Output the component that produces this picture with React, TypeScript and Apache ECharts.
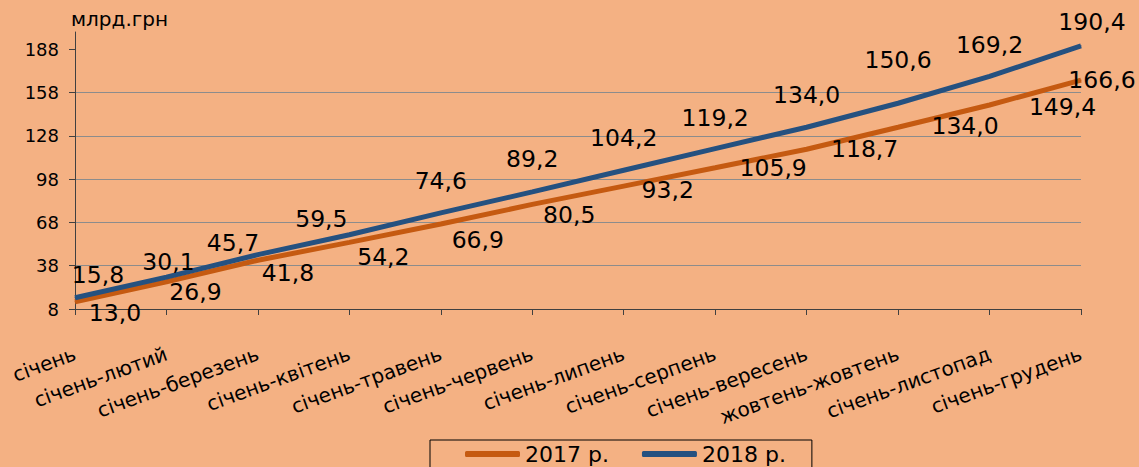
import React, { useEffect, useRef } from "react";
import * as echarts from "echarts";

const categories = [
  "січень",
  "січень-лютий",
  "січень-березень",
  "січень-квітень",
  "січень-травень",
  "січень-червень",
  "січень-липень",
  "січень-серпень",
  "січень-вересень",
  "жовтень-жовтень",
  "січень-листопад",
  "січень-грудень",
];
const values2017 = [13.0, 26.9, 41.8, 54.2, 66.9, 80.5, 93.2, 105.9, 118.7, 134.0, 149.4, 166.6];
const values2018 = [15.8, 30.1, 45.7, 59.5, 74.6, 89.2, 104.2, 119.2, 134.0, 150.6, 169.2, 190.4];
const yTicks = [8, 38, 68, 98, 128, 158, 188];
const seriesNames = ["2017 р.", "2018 р."];

// label placement (layout only)
const offsets2017 = [
  [40, 11], [29, 10], [30, 13], [34, 15], [37, 16], [37, 11],
  [44, 4], [58, 0], [58, 0], [67, -1], [73, 2], [21, 0],
];
const offsets2018 = [
  [23, -23], [2, -15], [-25, -12], [-28, -16], [0, -32], [0, -33],
  [0, -32], [0, -31], [0, -32], [0, -43], [0, -31], [11, -24],
];

const FONT = "DejaVu Sans, Verdana, sans-serif";
const fmt = (v: number) => v.toFixed(1).replace(".", ",");

export default function App() {
  const ref = useRef<HTMLDivElement>(null);
  useEffect(() => {
    if (!ref.current) return;
    const chart = echarts.init(ref.current, null, { renderer: "svg" });
    const mk = (vals: number[], offs: number[][]) =>
      vals.map((v, i) => ({
        value: v,
        label: { offset: offs[i] },
      }));
    const labelStyle = {
      show: true,
      position: "inside",
      fontSize: 23.5,
      fontFamily: FONT,
      color: "#000",
      formatter: (p: any) => fmt(p.value),
    };
    chart.setOption({
      animation: false,
      backgroundColor: "#F4B183",
      textStyle: { fontFamily: FONT },
      grid: { left: 75, right: 58, top: 32, bottom: 158, containLabel: false },
      graphic: [
        {
          type: "text",
          left: 71,
          top: 9,
          style: { text: "млрд.грн", fontSize: 20, fontFamily: FONT, fill: "#000" },
        },
      ],
      legend: {
        left: 430,
        top: 440,
        padding: [3, 26, 3, 35],
        itemGap: 33,
        itemWidth: 55,
        itemHeight: 6,
        icon: "roundRect",
        borderColor: "#000",
        borderWidth: 1,
        textStyle: { fontSize: 22, fontFamily: FONT, color: "#000" },
        data: seriesNames,
      },
      xAxis: {
        type: "category",
        data: categories,
        boundaryGap: false,
        axisLine: { lineStyle: { color: "#404040", width: 1 } },
        axisTick: { show: true, length: 6, lineStyle: { color: "#404040" } },
        axisLabel: {
          rotate: 20,
          margin: 44,
          fontSize: 20,
          fontFamily: FONT,
          color: "#000",
          interval: 0,
        },
      },
      yAxis: {
        type: "value",
        min: 8,
        max: 200,
        interval: 30,
        axisLine: { show: true, lineStyle: { color: "#404040", width: 1 } },
        axisTick: { show: true, length: 6, lineStyle: { color: "#404040" }, customValues: yTicks },
        axisLabel: {
          fontSize: 18,
          fontFamily: FONT,
          color: "#000",
          margin: 16,
          customValues: yTicks,
        },
        splitLine: { show: true, showMaxLine: false, showMinLine: false, lineStyle: { color: "#8c8c8c", width: 1 } },
      },
      series: [
        {
          name: seriesNames[0],
          type: "line",
          data: mk(values2017, offsets2017),
          symbol: "circle",
          symbolSize: 1,
          showSymbol: true,
          lineStyle: { color: "#C55A11", width: 5 },
          itemStyle: { color: "#C55A11" },
          label: labelStyle,
          z: 2,
        },
        {
          name: seriesNames[1],
          type: "line",
          data: mk(values2018, offsets2018),
          symbol: "circle",
          symbolSize: 1,
          showSymbol: true,
          lineStyle: { color: "#255180", width: 5 },
          itemStyle: { color: "#255180" },
          label: labelStyle,
          z: 3,
        },
      ],
    });
    return () => chart.dispose();
  }, []);
  return <div ref={ref} style={{ width: 1139, height: 467, position: "absolute", left: 0, top: 0 }} />;
}
